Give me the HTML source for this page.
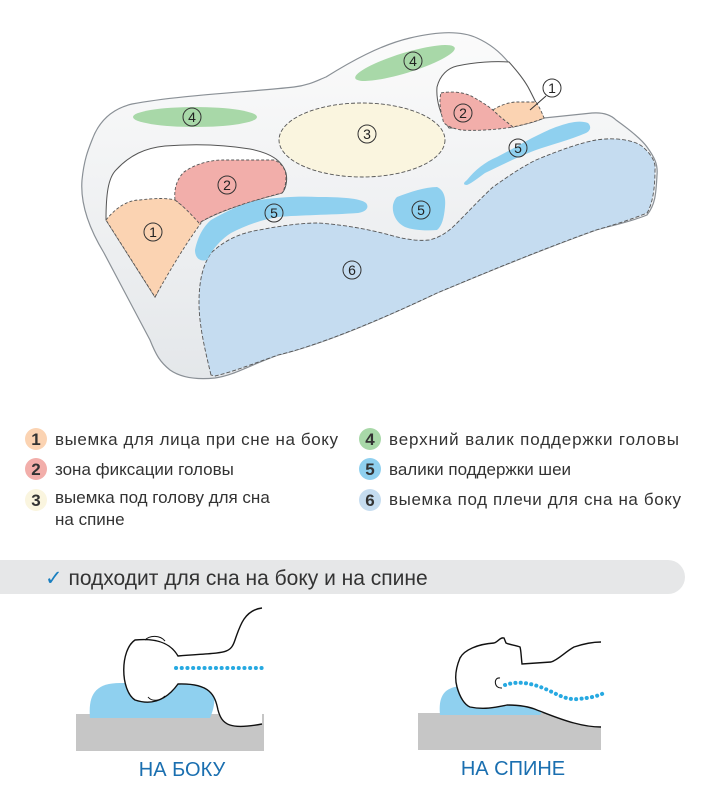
<!DOCTYPE html>
<html><head><meta charset="utf-8"><style>
body{margin:0;width:711px;height:797px;background:#fff;overflow:hidden;font-family:"Liberation Sans",sans-serif}
svg{position:absolute;left:0;top:0}
</style></head><body>
<svg width="711" height="797" viewBox="0 0 711 797">
<defs>
<linearGradient id="g" x1="0" y1="0" x2="0" y2="1"><stop offset="0" stop-color="#fbfbfb"/><stop offset="1" stop-color="#e4e7ea"/></linearGradient>
</defs>
<!-- pillow body -->
<path d="M92,140 C100,118 115,108 132,104 C180,95 250,92 294,87 C310,85 318,80 326,77 C350,62 380,45 410,38 C435,32 460,30 477,38 C495,46 505,58 509,63 C518,72 524,80 528,87 C535,100 540,112 544,118 L592,113 C605,112 612,116 616,120 C630,130 642,140 647,147 C655,158 658,165 657,175 C656,195 655,205 647,215 C630,222 610,226 596,230 C540,250 480,275 437,293 C380,320 320,345 278,355 C250,365 235,375 215,378 C195,380 180,377 170,370 C160,362 156,355 150,340 L104,253 C90,230 80,205 82,180 C84,160 88,150 92,140 Z" fill="url(#g)" stroke="#8a9096" stroke-width="1.2"/>
<!-- left end face -->
<path d="M106,220 C106,195 108,178 116,170 C130,155 145,148 165,146 C190,144 220,144 250,149 C270,153 282,160 286,173 C288,182 285,190 282,193 C255,200 220,210 199,223 C185,240 178,255 171,260 C165,275 160,288 155,297 Z" fill="#fff" stroke="#555" stroke-width="1"/>
<path d="M106,220 C118,205 130,200 140,200 C155,198 168,198 175,200 C185,208 195,215 201,223 C185,245 170,270 155,297 Z" fill="#fbd3b2" stroke="#555" stroke-dasharray="3,2" stroke-width="0.9"/>
<path d="M175,200 C174,190 176,180 184,172 C195,164 210,160 223,160 L274,160 C282,163 286,170 286,177 C286,185 284,190 282,193 C255,200 220,210 199,223 C190,213 182,205 175,200 Z" fill="#f2aeaa" stroke="#555" stroke-dasharray="3,2" stroke-width="0.9"/>
<!-- right end face -->
<path d="M449,128 C440,115 436,100 437,87 C440,75 448,68 457,66 C475,62 495,61 509,62 C518,72 524,80 528,87 C535,100 540,112 544,118 C535,122 522,125 513,127 Z" fill="#fff" stroke="#555" stroke-width="1"/>
<path d="M441,93 C450,91 465,92 473,97 C482,102 488,106 493,110 C500,117 507,122 513,127 C495,130 475,131 461,130 C450,128 443,124 443,120 C440,110 439,100 441,93Z" fill="#f2aeaa" stroke="#555" stroke-dasharray="3,2" stroke-width="0.9"/>
<path d="M493,110 C500,105 510,102 517,102 L536,102 C540,108 542,113 544,118 C535,122 522,125 513,127 C507,122 500,117 493,110Z" fill="#fbd3b2" stroke="#555" stroke-dasharray="3,2" stroke-width="0.9"/>
<!-- zone 6 -->
<path d="M211,375 C205,350 199,325 199,303 C199,280 203,265 211,253 C225,240 240,233 259,230 C280,226 300,223 318,223 C350,225 380,232 397,237 C410,240 420,241 429,240 C442,237 450,230 457,223 C470,210 482,197 493,187 C510,175 522,167 536,160 C560,150 580,143 596,140 C615,137 635,140 643,147 C652,155 656,163 655,170 C655,190 652,205 647,213 C630,220 610,226 596,230 C540,250 480,275 437,293 C380,320 320,345 278,355 C250,365 232,372 215,376 Z" fill="#c5dcf0" stroke="#555" stroke-dasharray="4,2" stroke-width="0.9"/>
<!-- 3 -->
<ellipse cx="362" cy="140" rx="83" ry="37" fill="#faf5df" stroke="#555" stroke-dasharray="4,2" stroke-width="0.9"/>
<!-- 4s -->
<ellipse cx="195" cy="117" rx="62" ry="10" fill="#a8d8a8"/>
<ellipse cx="405" cy="63" rx="52" ry="10" fill="#a8d8a8" transform="rotate(-17 405 63)"/>
<!-- 5s -->
<path d="M195,250 C198,235 205,225 211,220 C228,210 245,203 259,200 C280,197 300,196 318,197 C340,197 360,198 366,203 C370,208 365,212 358,213 C330,215 300,215 278,217 C260,220 245,226 231,233 C220,240 212,250 207,260 C200,262 195,258 195,250 Z" fill="#8fd0ef"/>
<path d="M397,197 C410,192 425,187 437,187 C444,190 446,198 445,207 C444,218 442,226 437,230 C425,231 412,230 405,227 C395,222 392,212 393,205 C394,201 395,199 397,197Z" fill="#8fd0ef"/>
<path d="M467,180 C475,170 485,162 497,157 C515,148 535,135 556,127 C570,122 580,120 588,123 C592,127 590,131 586,133 C570,140 550,145 536,150 C515,158 500,166 485,173 C478,178 472,183 467,185 C463,185 463,183 467,180Z" fill="#8fd0ef"/>
<!-- numbers -->
<g font-size="14" text-anchor="middle" fill="#222">
<g fill="none" stroke="#333" stroke-width="1"><circle cx="153" cy="232" r="9"/><circle cx="227" cy="185" r="9"/><circle cx="367" cy="134" r="9"/><circle cx="192" cy="117" r="9"/><circle cx="413" cy="61" r="9"/><circle cx="463" cy="113" r="9"/><circle cx="552" cy="88" r="9"/><circle cx="518" cy="148" r="9"/><circle cx="421" cy="210" r="9"/><circle cx="274" cy="213" r="9"/><circle cx="352" cy="270" r="9"/></g>
<path d="M546,96 L530,110" stroke="#333"/>
<text x="153" y="237">1</text><text x="227" y="190">2</text><text x="367" y="139">3</text><text x="192" y="122">4</text><text x="413" y="66">4</text><text x="463" y="118">2</text><text x="552" y="93">1</text><text x="518" y="153">5</text><text x="421" y="215">5</text><text x="274" y="218">5</text><text x="352" y="275">6</text>
</g>
<!-- legend -->
<g font-size="17" fill="#333">
<circle cx="36" cy="439" r="11" fill="#fbd3b2"/><circle cx="36" cy="469" r="11" fill="#f2aeaa"/><circle cx="36" cy="500" r="11" fill="#faf5df"/>
<circle cx="370" cy="439" r="11" fill="#a8d8a8"/><circle cx="370" cy="469" r="11" fill="#8fd0ef"/><circle cx="370" cy="500" r="11" fill="#c5dcf0"/>
<g font-weight="bold" text-anchor="middle"><text x="36" y="445">1</text><text x="36" y="475">2</text><text x="36" y="506">3</text><text x="370" y="445">4</text><text x="370" y="475">5</text><text x="370" y="506">6</text></g>
<text x="55" y="445" textLength="283">выемка для лица при сне на боку</text>
<text x="55" y="475">зона фиксации головы</text>
<text x="55" y="503">выемка под голову для сна</text>
<text x="55" y="525">на спине</text>
<text x="389" y="445" textLength="290">верхний валик поддержки головы</text>
<text x="389" y="475">валики поддержки шеи</text>
<text x="389" y="505" textLength="292">выемка под плечи для сна на боку</text>
</g>
<path d="M0,560 H668 A17,17 0 0 1 668,594 H0Z" fill="#e6e7e8"/>
<text x="45" y="585" font-size="21" fill="#333"><tspan fill="#1a7fc0">✓</tspan> подходит для сна на боку и на спине</text>
<!-- side sleeper -->
<rect x="76" y="714" width="188" height="37" fill="#c6c6c6"/>
<path d="M90,718 C88,695 95,683 120,683 L200,683 C215,683 218,700 210,718Z" fill="#8fd0ef"/>
<path d="M262,608 C245,610 240,625 235,640 C230,655 225,652 178,656 C170,642 155,638 135,640 C120,650 120,690 135,700 C150,705 165,702 178,684 C210,683 215,695 218,710 C222,725 230,730 262,724" fill="#fff" stroke="#111" stroke-width="1.4"/>
<path d="M145,640 C150,635 160,635 165,641 M148,697 C152,702 160,701 165,696" fill="none" stroke="#111"/>
<line x1="176" y1="668" x2="262" y2="668" stroke="#27a9e1" stroke-width="4" stroke-dasharray="0.1,5.6" stroke-linecap="round"/>
<text x="182" y="776" font-size="20" fill="#1a6fb0" text-anchor="middle">НА БОКУ</text>
<!-- back sleeper -->
<rect x="418" y="713" width="183" height="37" fill="#c6c6c6"/>
<path d="M440,715 C438,695 445,687 462,686 L537,690 C545,700 544,710 540,715Z" fill="#8fd0ef"/>
<path d="M504,642 C498,640 494,643 490,643 C475,645 462,650 460,658 C455,670 455,680 457,687 C460,698 465,705 470,707 C485,710 497,707 507,705 C520,705 530,707 537,710 C550,715 562,720 574,723 C585,726 595,727 601,727 L601,642 C590,642 580,645 574,647 C565,652 558,660 551,662 L522,660 C521,655 521,650 520,647 C515,645 510,643 504,642Z" fill="#fff"/>
<path d="M601,642 C590,642 580,645 574,647 C565,652 558,660 551,662 L522,664 C521,655 521,650 520,647 C515,645 510,645 506,643 L504,638 C500,637 498,642 494,643 C478,644 464,650 460,658 C455,670 455,680 457,687 C460,698 465,705 470,707 C485,710 497,707 507,705 C520,705 530,707 537,710 C550,715 562,720 574,723 C585,726 595,727 601,727" fill="none" stroke="#111" stroke-width="1.4"/>
<path d="M500,678 C493,677 494,689 502,688" fill="none" stroke="#111"/>
<path d="M505,685 C520,680 535,684 550,691 C560,696 568,700 578,699 C590,698 598,696 604,693" fill="none" stroke="#27a9e1" stroke-width="4" stroke-dasharray="0.1,5.2" stroke-linecap="round"/>
<text x="513" y="775" font-size="20" fill="#1a6fb0" text-anchor="middle">НА СПИНЕ</text>
</svg>
</body></html>
